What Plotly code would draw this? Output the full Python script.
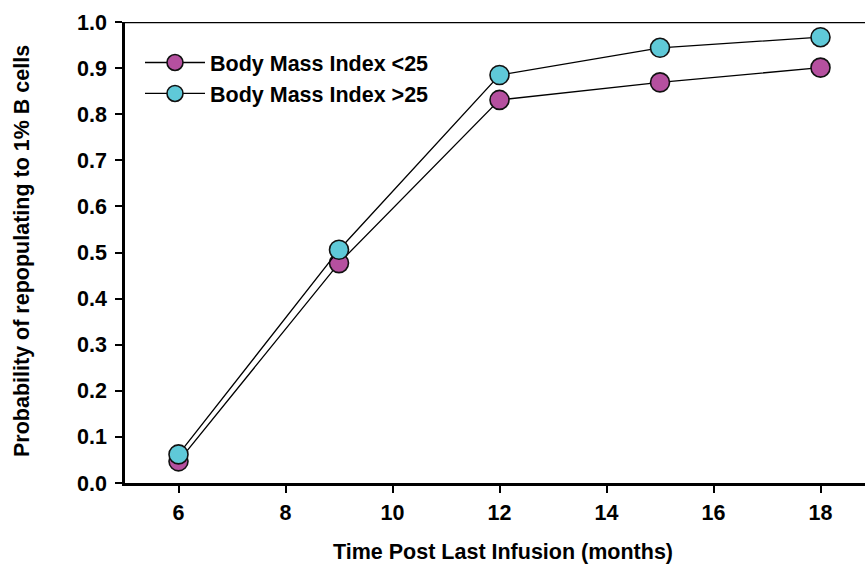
import plotly.graph_objects as go

months = [6, 9, 12, 15, 18]
bmi_lt25 = [0.047, 0.477, 0.831, 0.869, 0.901]
bmi_gt25 = [0.062, 0.506, 0.885, 0.944, 0.967]
series_names = ["Body Mass Index <25", "Body Mass Index >25"]
colors = ["#B5509F", "#5FC9D8"]
x_ticks = [6, 8, 10, 12, 14, 16, 18]
y_ticks = [0.0, 0.1, 0.2, 0.3, 0.4, 0.5, 0.6, 0.7, 0.8, 0.9, 1.0]

FONT = "Liberation Sans, Arial, sans-serif"
FS = 21.5
W, H = 865, 565
L, T, B, R = 125, 22, 82, 0
PW = W - L - R
PH = H - T - B

fig = go.Figure()
for name, vals, col in zip(series_names, [bmi_lt25, bmi_gt25], colors):
    fig.add_trace(go.Scatter(
        x=months, y=vals, name=name, mode="lines+markers",
        line=dict(color="black", width=1.3),
        marker=dict(size=19, color=col, line=dict(color="#111111", width=1.6)),
    ))

bold = dict(family=FONT, size=FS, color="black", weight="bold")

fig.update_layout(
    width=W, height=H,
    margin=dict(l=L, r=R, t=T, b=B, autoexpand=False),
    paper_bgcolor="white", plot_bgcolor="white",
    font=dict(family=FONT, size=FS, color="black"),
    showlegend=True,
    legend=dict(x=(140 - L) / PW, y=1 - (42 - T) / PH, xanchor="left", yanchor="top",
                bgcolor="rgba(0,0,0,0)", font=bold,
                tracegroupgap=0, itemwidth=60),
    xaxis=dict(range=[5.0, 5.0 + PW / 53.5], tickvals=x_ticks, ticktext=[str(v) for v in x_ticks],
               showgrid=False, zeroline=False, showline=True, linecolor="black", linewidth=2.5,
               ticks="outside", ticklen=7, tickwidth=2, tickcolor="black",
               tickfont=bold, ticklabelstandoff=1),
    yaxis=dict(range=[0, 1.0], tickvals=y_ticks, ticktext=[f"{v:.1f}" for v in y_ticks],
               showgrid=False, zeroline=False, showline=True, linecolor="black", linewidth=2.5,
               ticks="outside", ticklen=7, tickwidth=2, tickcolor="black",
               tickfont=bold, ticklabelstandoff=4),
)

# top frame line
fig.add_shape(type="line", xref="paper", yref="y", x0=0, x1=1, y0=1.0, y1=1.0,
              line=dict(color="black", width=2.5))

# axis titles as annotations
fig.add_annotation(text="Time Post Last Infusion (months)", xref="paper", yref="paper",
                   x=(503 - L) / PW, y=-(552 - 483) / PH, xanchor="center", yanchor="middle",
                   showarrow=False, font=bold)
fig.add_annotation(text="Probability of repopulating to 1% B cells", xref="paper", yref="paper",
                   x=(22 - L) / PW, y=1 - (251 - T) / PH, xanchor="center", yanchor="middle",
                   textangle=-90, showarrow=False, font=bold)

fig.write_html("out.html", config={"displayModeBar": False},
               post_script="document.body.style.margin='0';document.body.style.overflow='hidden';")
